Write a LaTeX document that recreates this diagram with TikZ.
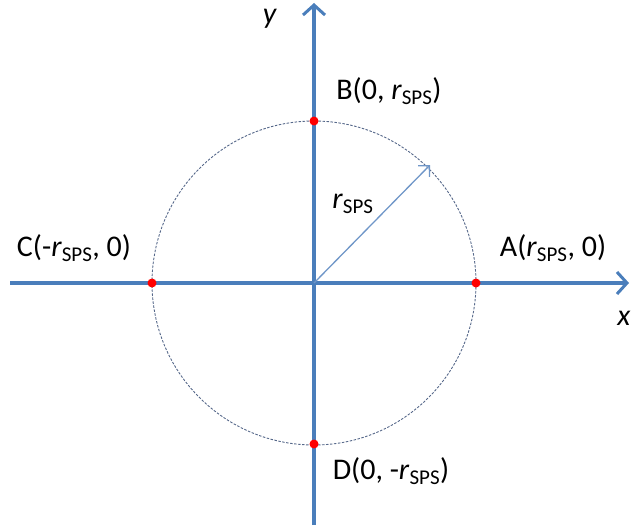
\documentclass[tikz,border=0pt]{standalone}
\usepackage{fontspec}
\setmainfont{Carlito}
\usetikzlibrary{arrows.meta}
\definecolor{axisblue}{HTML}{4A7EBB}
\definecolor{radblue}{HTML}{6F96C8}
\definecolor{circgray}{HTML}{56688A}
\newcommand{\rsps}{\textit{r}\textsubscript{SPS}}
\tikzset{
  axis/.style={draw=axisblue, line width=3.5pt, -{Straight Barb[length=10pt,width=22pt,line width=3pt]}},
  radius/.style={draw=radblue, line width=1.3pt, -{Straight Barb[length=8pt,width=16pt,line width=1.3pt]}},
  dot/.style={circle, fill=red, inner sep=0pt, minimum size=9pt},
  lbl/.style={font=\fontsize{30}{36}\selectfont, inner sep=0pt, text=black},
}
\begin{document}
\begin{tikzpicture}[x=1pt,y=-1pt]
\useasboundingbox (0,0) rectangle (631,527);
\coordinate (O) at (314,283);
\coordinate (xs) at (10,283);
\coordinate (xe) at (629,283);
\coordinate (ys) at (314,525);
\coordinate (ye) at (314,3);
\coordinate (R) at (430,165);
\draw[circgray, line width=0.9pt, dash pattern=on 2.5pt off 1.5pt] (O) circle (162);
\draw[axis] (xs) -- (xe);
\draw[axis] (ys) -- (ye);
\draw[radius] (O) -- (R);
\node[dot] (A) at (476,283) {};
\node[dot] (B) at (314,121) {};
\node[dot] (C) at (152,283) {};
\node[dot] (D) at (314,444) {};
\node[lbl] (Al) at (553,248) {A(\rsps, 0)};
\node[lbl] (Bl) at (389,91) {B(0, \rsps)};
\node[lbl] (Cl) at (74,248) {C(-\rsps, 0)};
\node[lbl] (Dl) at (391,471) {D(0, -\rsps)};
\node[lbl] (rl) at (353,204) {\rsps};
\node[lbl] (yl) at (270,19) {\textit{y}};
\node[lbl] (xl) at (624,318) {\textit{x}};
\end{tikzpicture}
\end{document}
